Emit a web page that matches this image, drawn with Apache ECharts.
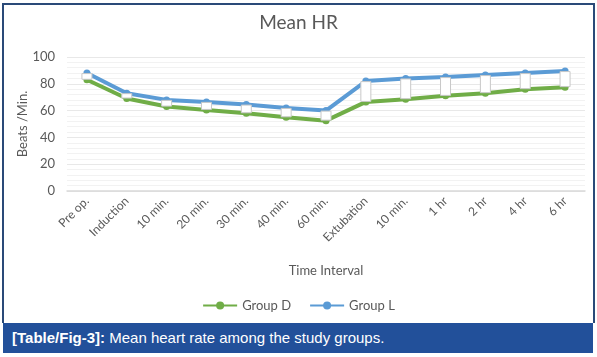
<!DOCTYPE html>
<html>
<head>
<meta charset="utf-8">
<script src="https://cdn.jsdelivr.net/npm/echarts@6/dist/echarts.min.js"></script>
<style>
html,body{margin:0;padding:0;background:#fff;}
#wrap{position:relative;width:597px;height:357px;overflow:hidden;}
#frame{position:absolute;left:2px;top:3px;width:589px;height:318px;border:2px solid #2a4a78;border-bottom:none;}
#chart{position:absolute;left:0;top:0;width:597px;height:357px;}
#cap{position:absolute;left:3px;top:323px;width:590px;height:30px;background:#22509a;color:#fff;font-family:"Liberation Sans",Arial,sans-serif;font-size:15px;line-height:30px;padding-left:9px;box-sizing:border-box;}
</style>
</head>
<body>
<div id="wrap">
<div id="frame"></div>
<div id="chart"></div>
<div id="cap"><b>[Table/Fig-3]:</b> Mean heart rate among the study groups.</div>
</div>
<script>
const categories = ["Pre op.", "Induction", "10 min.", "20 min.", "30 min.", "40 min.", "60 min.", "Extubation", "10 min.", "1 hr", "2 hr", "4 hr", "6 hr"];
const groupD = [83, 69, 63, 60.5, 58, 55, 52.5, 66.5, 68.5, 71, 73, 76, 77.5];
const groupL = [88, 73, 68, 66.5, 64.5, 62, 60, 82, 84, 85, 86.5, 88, 89.5];
const yTicks = [0, 20, 40, 60, 80, 100];

const low = groupD.map((d, i) => Math.min(d, groupL[i]));
const diff = groupD.map((d, i) => Math.abs(groupL[i] - d));

const chart = echarts.init(document.getElementById('chart'), null, {renderer: 'canvas'});
const font = 'Lato, "Open Sans", sans-serif';
chart.setOption({
  animation: false,
  title: {
    text: 'Mean HR', left: 'center', top: 8,
    textStyle: {fontFamily: font, fontSize: 19, fontWeight: 'normal', color: '#595959'}
  },
  legend: {
    bottom: 40, left: 'center', itemWidth: 34, itemHeight: 10, itemGap: 18,
    data: ['Group D', 'Group L'],
    textStyle: {fontFamily: font, fontSize: 13, color: '#595959'}
  },
  grid: {left: 67, right: 12, top: 57, bottom: 166},
  xAxis: {
    type: 'category', data: categories, boundaryGap: true,
    name: 'Time Interval', nameLocation: 'middle', nameGap: 73,
    nameTextStyle: {fontFamily: font, fontSize: 13, color: '#595959'},
    axisLine: {lineStyle: {color: '#d9d9d9', width: 1.5}},
    axisTick: {show: false},
    axisLabel: {rotate: 45, interval: 0, margin: 8, fontFamily: font, fontSize: 12, color: '#595959'}
  },
  yAxis: {
    type: 'value', min: yTicks[0], max: yTicks[yTicks.length - 1], interval: 20,
    name: 'Beats /Min.', nameLocation: 'middle', nameGap: 38, nameMoveOverlap: false,
    nameTextStyle: {fontFamily: font, fontSize: 13, color: '#595959'},
    axisLine: {show: false}, axisTick: {show: false},
    axisLabel: {margin: 12, fontFamily: font, fontSize: 13, color: '#595959'},
    splitLine: {lineStyle: {color: '#e8e8e8'}},
    minorTick: {show: false, splitNumber: 5},
    minorSplitLine: {show: true, lineStyle: {color: '#f2f2f2'}}
  },
  series: [
    {
      name: 'Group D', type: 'line', data: groupD, z: 2,
      symbol: 'circle', symbolSize: 7,
      lineStyle: {color: '#70ad47', width: 4},
      itemStyle: {color: '#70ad47'}
    },
    {
      name: 'Group L', type: 'line', data: groupL, z: 2,
      symbol: 'circle', symbolSize: 7,
      lineStyle: {color: '#5b9bd5', width: 4},
      itemStyle: {color: '#5b9bd5'}
    },
    {
      name: 'base', type: 'bar', stack: 'ud', data: low, barWidth: 11, z: 5,
      itemStyle: {color: 'rgba(0,0,0,0)'}, silent: true, legendHoverLink: false
    },
    {
      name: 'updown', type: 'bar', stack: 'ud', data: diff, barWidth: 11, z: 5,
      itemStyle: {color: '#ffffff', borderColor: '#c8c8c8', borderWidth: 1}, silent: true
    }
  ]
});
</script>
</body>
</html>
